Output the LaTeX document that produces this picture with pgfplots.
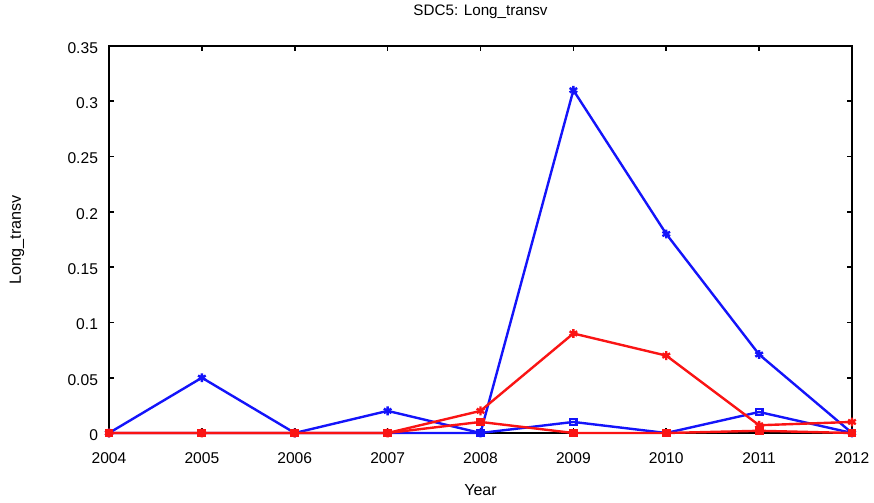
\documentclass[border=0pt]{standalone}
\usepackage{pgfplots}
\pgfplotsset{compat=1.18}
\usepackage{fontspec}
\setmainfont{Liberation Sans}
\definecolor{mblue}{RGB}{20,20,250}
\definecolor{mred}{RGB}{250,20,20}
\begin{document}
\begin{tikzpicture}
\pgfplotsset{every axis title shift=0pt}
\begin{axis}[
  scale only axis,
  width=371.5pt, height=193.5pt,
  xmin=2004, xmax=2012, ymin=0, ymax=0.35,
  xtick={2004,2005,...,2012},
  ytick={0,0.05,0.1,0.15,0.2,0.25,0.3,0.35},
  scaled y ticks=false,
  yticklabel style={/pgf/number format/fixed,/pgf/number format/precision=2, xshift=-2pt, yshift=-1pt},
  xticklabel style={/pgf/number format/1000 sep={}, yshift=-6.5pt},
  /pgf/number format/assume math mode=true,
  tick align=inside,
  major tick length=2.5pt,
  tick style={black, line width=0.8pt},
  axis line style={line width=0.9pt},
  ticklabel style={font=\fontsize{7.8}{9}\selectfont},
  title={SDC5: Long\_transv},
  title style={font=\fontsize{7.6}{9}\selectfont, at={(axis description cs:0.5,1.088)}, anchor=center},
  xlabel={Year},
  xlabel style={font=\fontsize{8}{9}\selectfont, at={(axis description cs:0.5,-0.147)}, anchor=center},
  ylabel={Long\_transv},
  ylabel style={font=\fontsize{8.1}{9}\selectfont, at={(axis description cs:-0.124,0.5)}, anchor=center},
  every axis plot/.append style={line width=1.2pt},
  clip=false,
]
\addplot[mblue, mark=asterisk, mark size=2.2pt] coordinates {
 (2004,0) (2005,0.05) (2006,0) (2007,0.02) (2008,0) (2009,0.31) (2010,0.18) (2011,0.071) (2012,0)};
\addplot[mblue, mark=square, mark size=1.6pt] coordinates {
 (2004,0) (2005,0) (2006,0) (2007,0) (2008,0) (2009,0.01) (2010,0) (2011,0.019) (2012,0)};
\addplot[mred, mark=asterisk, mark size=2.2pt] coordinates {
 (2004,0) (2005,0) (2006,0) (2007,0) (2008,0.02) (2009,0.09) (2010,0.07) (2011,0.007) (2012,0.01)};
\addplot[mred, mark=square*, mark size=1.6pt] coordinates {
 (2004,0) (2005,0) (2006,0) (2007,0) (2008,0.01) (2009,0) (2010,0) (2011,0.002) (2012,0)};
\end{axis}
\pgfresetboundingbox
\path (current axis.south west) ++(-54.5pt,-34.5pt) coordinate (bbA);
\path (current axis.north east) ++(11pt,23pt) coordinate (bbB);
\path[use as bounding box] (bbA) rectangle (bbB);
\end{tikzpicture}
\end{document}
